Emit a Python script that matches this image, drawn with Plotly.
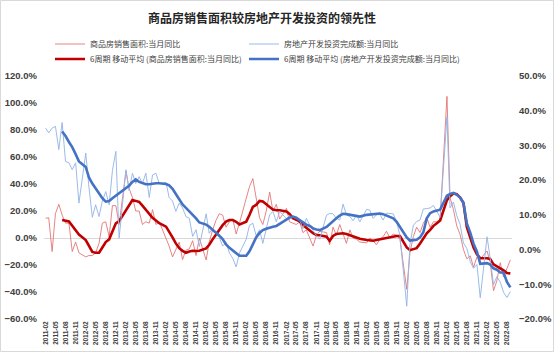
import plotly.graph_objects as go

# ---------------- data ----------------
# monthly points Feb-2011 .. Sep-2022 (January is published together with February, so it is absent)
months = [f"{y}-{m:02d}" for y in range(2011, 2023) for m in range(2, 13)
          if (y, m) <= (2022, 9)]

tick_labels = [f"{y}-{m:02d}" for y in range(2011, 2023) for m in (2, 5, 8, 11)
               if (y, m) <= (2022, 8)]

# 商品房销售面积:当月同比 (%), left axis
sales_yoy = [
    14.6, 15, -10, 18, 25, 17, 11, 11, -10, -3, -11,            # 2011
    -14, -13, -13, -11, -4, 11, 12, 1, 24, 24, 10,             # 2012
    49.5, 37, 30, 20, 20, 10, 12, 11, 21, 10, 12,              # 2013
    0, -6, -14, -8, -3, -16, -9, -8, -2, -13, 0,               # 2014
    -16.3, -3, 6, 13, 18, 17, 8, 12, 14, 3, 11,                # 2015
    30, 38, 44, 28, 15, 10, 20, 34, 20, 25, 14,                # 2016
    22, 12, 11, 10, 12, 4, 6, 0, -6, 2, 5,                     # 2017
    4, -5, 8, 2, 10, 3, -4, 6, 0, -1, -3,                      # 2018
    -3.6, 0, -2, -5, -1, 1, 5, 0, 3, 2, -1,                    # 2019
    -38, -11, 1, 8, 4, 11, 15, 8, 12, 12, 14,                  # 2020
    104.9, 30, 21, 9, 2.5, -8.5, -15.5, -13.2, -21.7, -14, -15.6,  # 2021
    -9.6, -17.7, -39, -31.8, -18.3, -28.9, -22.6, -16.2,       # 2022
]

# 房地产开发投资完成额:当月同比 (%), right axis
invest_yoy = [
    35, 33.6, 35, 35.5, 28.8, 36.6, 25.4, 25, 23, 25, 13.4,    # 2011
    27.8, 18, 9.3, 12.9, 9.5, 14, 16.7, 12.9, 22.8, 28.3, 3.3,  # 2012
    23, 17, 22, 19, 21, 19, 22, 15, 21.5, 22, 19,              # 2013
    19.3, 15, 14, 11, 13.4, 12, 9.5, 9, 3.8, 5.7, 0.9,         # 2014
    10.3, 4.7, 6, 5, 3.5, 1, 2, -1, -2.5, -5, -1,              # 2015
    3, 7, 7.6, 4, 5.7, 1.8, 6, 10, 11, 8, 11,                  # 2016
    8.9, 9.7, 9.3, 8.8, 8.6, 6, 9, 7, 5.6, 4, 3,               # 2017
    9.9, 10.4, 10.3, 9, 8.5, 13.1, 10, 9.5, 8.3, 10, 8,        # 2018
    11.6, 11.4, 9, 10, 10.1, 8.5, 10.5, 10.5, 10.3, 8, 4,      # 2019
    -16.3, 1.5, 7, 8.1, 8.5, 11.7, 11.8, 12, 12.7, 10.9, 9.3,  # 2020
    38.3, 12, 13.7, 9.8, 7.2, 1.9, 0.3, -3.5, -5.4, -4.3, -13.9,  # 2021
    3.7, -2.4, -10.1, -7.8, -9.4, -12.3, -13.8, -12.1,         # 2022
]

# 6周期 移动平均 (商品房销售面积:当月同比)
sales_ma6 = [
    None, None, None, None, None, 13.3, 12.8, 12.3, 9, 5.9, 2.5,  # 2011
    -1.5, -6, -10.3, -10.9, -10.9, -7, -3, -1, 5, 10.9, 12.5,      # 2012
    20.7, 25, 28.1, 27.5, 26.7, 24, 21, 18.3, 15, 13, 11,          # 2013
    8.4, 5, 0.5, -4, -7.5, -9.5, -10.9, -10, -9.4, -9.6, -9.4,     # 2014
    -7.7, -5, -1, 2.5, 6, 9.5, 12.1, 13.3, 13.3, 12, 10,           # 2015
    12.1, 17, 23, 24.5, 27.5, 27, 25, 22.5, 21, 20.5, 20.5,        # 2016
    19.6, 17.8, 14.6, 13.3, 12.3, 9.6, 7.2, 5.5, 3.5, 2.2, 2,      # 2017
    1, -2, 1.5, 3, 3.5, 3.5, 3, 2, 1, 0, -0.5,                     # 2018
    -1.5, -1.8, -2, -1.5, -1, -0.5, 0.2, 0.5, 1, 1.5, 1.5,         # 2019
    -7, -9, -8.5, -7.5, -4, 0, 3.5, 6, 9, 11, 13,                  # 2020
    28, 31, 33, 32.5, 30, 26, 8, 0, -7, -12, -15,                  # 2021
    -15, -15.5, -19.5, -21, -22, -24, -26, -26.2,                  # 2022
]

# 6周期 移动平均 (房地产开发投资完成额:当月同比)
invest_ma6 = [
    None, None, None, None, None, 34, 32.7, 31, 29.5, 27.5, 25.4,  # 2011
    23.8, 20.8, 19, 17.5, 16, 14.8, 13.8, 14, 14.8, 15.5, 16.2,    # 2012
    17.8, 18.4, 19.5, 20.2, 19.5, 19.2, 18.8, 18.8, 19, 19.1, 19.1,  # 2013
    18.9, 18.5, 17.5, 16, 14.5, 13, 12, 11, 10.2, 9, 7.8,          # 2014
    7.2, 6.6, 5.8, 5, 4, 3, 1.5, 0.5, -0.3, -1.2, -1.8,            # 2015
    -1.8, -0.5, 1.5, 3.5, 4.8, 5.6, 6, 6.4, 6.6, 6.8, 7.4,         # 2016
    8.5, 9.2, 9.5, 9.2, 8.5, 7.8, 7.2, 6.8, 6.1, 5.8, 5.6,         # 2017
    6.5, 7.2, 8, 9, 9.8, 10.3, 10.2, 10, 9.8, 9.6, 9.5,            # 2018
    10, 10.1, 10.3, 10.4, 10.4, 10.2, 9.8, 9.5, 9, 8, 6.5,         # 2019
    3.5, 2.6, 2.6, 2.8, 3.5, 5, 9, 10.5, 11, 11.2, 11.5,           # 2020
    15.5, 16, 16.3, 15.8, 15, 13.5, 7.5, 4.9, 1.7, -0.6, -4.1,     # 2021
    -3.9, -4.3, -5.4, -5.8, -6.6, -6.6, -9.3, -10.9,               # 2022
]

names = [
    "商品房销售面积:当月同比",
    "房地产开发投资完成额:当月同比",
    "6周期 移动平均 (商品房销售面积:当月同比)",
    "6周期 移动平均 (房地产开发投资完成额:当月同比)",
]

# ---------------- figure ----------------
x = [m + "-01" for m in months]
ticks = [t + "-01" for t in tick_labels]

W, H = 554, 352
ML, MR, MT, MB = 44, 42, 76, 33
PW, PH = W - ML - MR, H - MT - MB

fig = go.Figure()
fig.add_trace(go.Scatter(x=x, y=sales_yoy, name=names[0], mode="lines",
                         line=dict(color="rgba(226,110,110,0.85)", width=1),
                         legend="legend"))
fig.add_trace(go.Scatter(x=x, y=invest_yoy, name=names[1], mode="lines", yaxis="y2",
                         line=dict(color="rgba(150,182,232,0.95)", width=1),
                         legend="legend2"))
fig.add_trace(go.Scatter(x=x, y=sales_ma6, name=names[2], mode="lines",
                         line=dict(color="#C00000", width=2.6),
                         legend="legend3"))
fig.add_trace(go.Scatter(x=x, y=invest_ma6, name=names[3], mode="lines", yaxis="y2",
                         line=dict(color="#4472C4", width=2.6),
                         legend="legend4"))

num_font = dict(family="Liberation Sans", size=9.5, color="#404040", weight="bold")
cjk = "Noto Sans CJK SC"

leg_common = dict(orientation="h", xref="container", yref="container",
                  xanchor="left", yanchor="middle",
                  font=dict(family=cjk, size=8, color="#404040"),
                  bgcolor="rgba(0,0,0,0)", borderwidth=0, itemwidth=30)

col1, col2 = 50 / W, 244 / W
row1, row2 = 1 - 44 / H, 1 - 59 / H

fig.update_layout(
    width=W, height=H,
    margin=dict(l=ML, r=MR, t=MT, b=MB, autoexpand=False),
    paper_bgcolor="white", plot_bgcolor="white",
    title=dict(text="<b>商品房销售面积较房地产开发投资的领先性</b>",
               x=262 / W, xref="container", xanchor="center",
               y=1 - 19 / H, yref="container", yanchor="middle",
               font=dict(family=cjk, size=12, color="#262626")),
    legend=dict(x=col1, y=row1, **leg_common),
    legend2=dict(x=col2, y=row1, **leg_common),
    legend3=dict(x=col1, y=row2, **leg_common),
    legend4=dict(x=col2, y=row2, **leg_common),
    xaxis=dict(type="date", range=["2011-01-17", "2022-09-16"],
               tickmode="array", tickvals=ticks, ticktext=tick_labels,
               tickangle=-90, ticks="", showgrid=False, zeroline=False,
               showline=False, automargin=False,
               tickfont=dict(family="Liberation Sans", size=6.5, color="#404040",
                             weight="bold")),
    yaxis=dict(range=[-60, 120], dtick=20, tick0=0, tickformat=".1f", ticksuffix="%",
               showgrid=False, zeroline=True, zerolinecolor="#D9D9D9",
               zerolinewidth=1, ticks="", showline=False, tickfont=num_font,
               ticklabelstandoff=6, automargin=False),
    yaxis2=dict(range=[-20, 50], dtick=10, tick0=0, tickformat=".1f", ticksuffix="%",
                overlaying="y", side="right", showgrid=False, zeroline=False,
                ticks="", showline=False, tickfont=num_font, ticklabelstandoff=6,
                automargin=False),
    showlegend=True,
)

# light frame around the whole chart
fig.add_shape(type="rect", xref="paper", yref="paper",
              x0=(0.5 - ML) / PW, x1=(W - 0.5 - ML) / PW,
              y0=-(MB - 0.5) / PH, y1=(H - MB - 0.5) / PH,
              line=dict(color="#D9D9D9", width=1), fillcolor="rgba(0,0,0,0)",
              layer="below")

fig.write_html("out.html")
